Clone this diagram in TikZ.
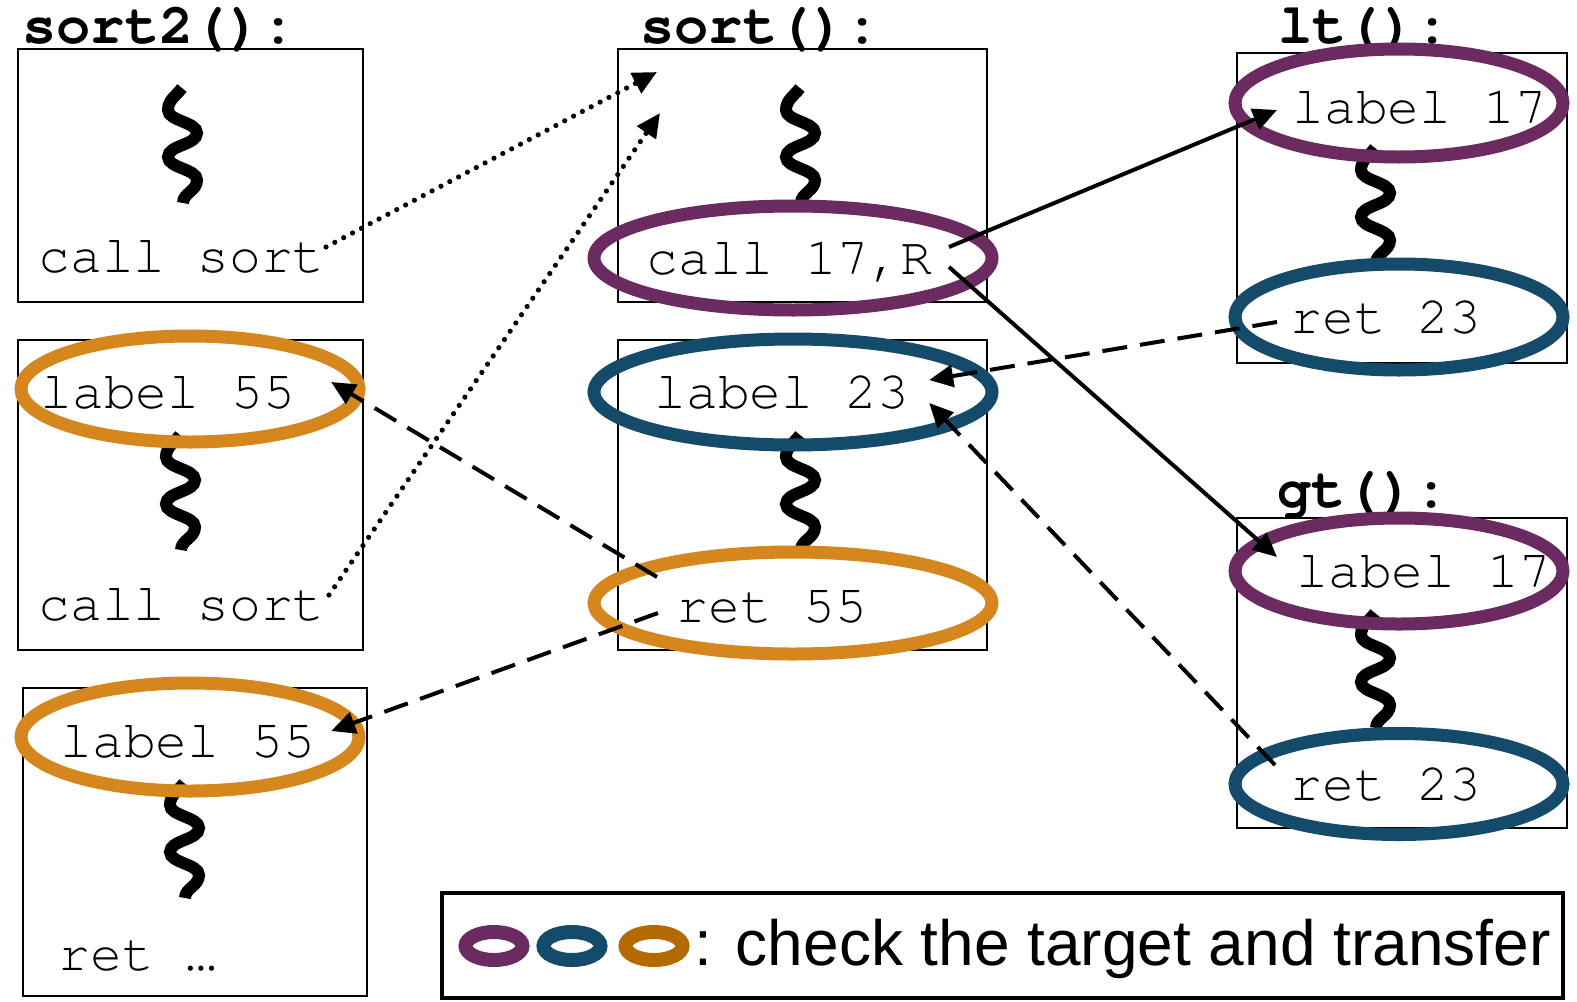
\documentclass[tikz,border=0pt]{standalone}
\usepackage{fontspec}
\setmainfont{Liberation Sans}
\newfontfamily\codefont{texgyrecursor}[Extension=.otf, UprightFont=*-regular, BoldFont=*-bold]
\usetikzlibrary{arrows.meta,shapes.geometric}

\definecolor{cpurple}{HTML}{6B2B60}
\definecolor{cblue}{HTML}{144B6A}
\definecolor{corange}{HTML}{D5861C}
\definecolor{cbrown}{HTML}{B36A00}

\tikzset{
  code/.style={font=\codefont\fontsize{26.5}{30}\selectfont, inner sep=0pt, anchor=base west},
  title/.style={font=\codefont\bfseries\fontsize{28.5}{32}\selectfont, inner sep=0pt, anchor=base west},
  frame/.style={draw, line width=1pt},
  ring/.style={ellipse, draw=#1, line width=6.5pt, inner sep=0pt},
  keyring/.style={ellipse, draw=#1, line width=7pt, inner sep=0pt, minimum width=28.5pt, minimum height=14pt},
  tip/.style={-{Triangle[length=12pt,width=11pt]}},
  jump/.style={tip, line width=2pt},
  back/.style={tip, line width=2pt, dash pattern=on 12.5pt off 6.5pt},
  callin/.style={tip, line width=2.6pt, dash pattern=on 0pt off 5pt, line cap=round},
  wiggle/.pic={
    \draw[line width=6pt] (0,0) .. controls (-6,8) and (-14,12) .. (-14,22)
      .. controls (-14,33) and (15,34) .. (15,45)
      .. controls (15,57) and (-14,57) .. (-14,69)
      .. controls (-14,80) and (15,81) .. (15,92)
      .. controls (15,103) and (1,105) .. (1,115);
  }
}

\begin{document}
\begin{tikzpicture}[x=0.5pt,y=-0.5pt]
  \useasboundingbox (0,0) rectangle (1577,1001);

  % sort2()
  \node[title] (tsort2) at (22,43) {sort2():};
  \draw[frame] (18,49) rectangle (363,302);
  \draw[frame] (18,340) rectangle (363,650);
  \draw[frame] (23,688) rectangle (367,996);
  \pic at (182,88) {wiggle};
  \pic at (180,435) {wiggle};
  \pic at (184,783) {wiggle};
  \node[code] (cs1) at (38,272) {call sort};
  \node[code] (lb55a) at (40,408) {label 55};
  \node[code] (cs2) at (38,620) {call sort};
  \node[code] (lb55b) at (60,757) {label 55};
  \node[code] (retx) at (58,970) {ret …};
  \node[ring=corange, minimum width=169pt, minimum height=53pt] (r55a) at (190,389) {};
  \node[ring=corange, minimum width=169pt, minimum height=54pt] (r55b) at (190,737) {};

  % sort()
  \node[title] (tsort) at (640,43) {sort():};
  \draw[frame] (618,49) rectangle (987,302);
  \draw[frame] (618,340) rectangle (987,650);
  \pic at (800,88) {wiggle};
  \pic at (800,435) {wiggle};
  \node[code] (callR) at (646,274) {call 17,R};
  \node[code] (lb23) at (654,408) {label 23};
  \node[code] (ret55) at (676,622) {ret 55};
  \node[ring=cpurple, minimum width=199pt, minimum height=52pt] (rcallR) at (793,258) {};
  \node[ring=cblue, minimum width=199pt, minimum height=53pt] (r23) at (793,392) {};
  \node[ring=corange, minimum width=199pt, minimum height=51pt] (rret55) at (793,603) {};
  \coordinate (sortin1) at (657,72);
  \coordinate (sortin2) at (660,113);

  % lt() and gt()
  \node[title] (tlt) at (1278,43) {lt():};
  \node[title] (tgt) at (1277,507) {gt():};
  \draw[frame] (1237,53) rectangle (1567,363);
  \draw[frame] (1237,518) rectangle (1567,828);
  \pic at (1375,148) {wiggle};
  \pic at (1375,613) {wiggle};
  \node[code] (lb17a) at (1292,123) {label 17};
  \node[code] (ret23a) at (1290,333) {ret 23};
  \node[code] (lb17b) at (1296,587) {label 17};
  \node[code] (ret23b) at (1290,800) {ret 23};
  \node[ring=cpurple, minimum width=164pt, minimum height=54pt] (r17a) at (1399,103) {};
  \node[ring=cblue, minimum width=164pt, minimum height=53pt] (rret23a) at (1399,317) {};
  \node[ring=cpurple, minimum width=164pt, minimum height=53pt] (r17b) at (1399,571) {};
  \node[ring=cblue, minimum width=164pt, minimum height=50.5pt] (rret23b) at (1399,784) {};

  % calls into sort()
  \draw[callin] ([shift={(1,-25)}]cs1.base east) -- (sortin1);
  \draw[callin] ([shift={(4,-25)}]cs2.base east) -- (sortin2);

  % indirect call and returns
  \draw[jump] ([shift={(16,-27)}]callR.base east) -- ([shift={(-15,-13)}]lb17a.base west);
  \draw[jump] ([shift={(16,-7)}]callR.base east) -- ([shift={(-19,-30)}]lb17b.base west);
  \draw[back] ([shift={(-13,-11)}]ret23a.base west) -- ([shift={(20,-28)}]lb23.base east);
  \draw[back] ([shift={(-15,-35)}]ret23b.base west) -- ([shift={(20,-5)}]lb23.base east);
  \draw[back] ([shift={(-19,-45)}]ret55.base west) -- ([shift={(36,-26)}]lb55a.base east);
  \draw[back] ([shift={(-18,-9)}]ret55.base west) -- ([shift={(16,-26)}]lb55b.base east);

  % legend
  \draw[line width=2pt] (442,893) rectangle (1563,998);
  \node[keyring=cpurple] (key1) at (494,946) {};
  \node[keyring=cblue] (key2) at (572,946) {};
  \node[keyring=cbrown] (key3) at (654,946) {};
  \node[font=\fontsize{32}{36}\selectfont, inner sep=0pt, anchor=base west] (keytext) at (694,965) {: check the target and transfer};
\end{tikzpicture}
\end{document}
